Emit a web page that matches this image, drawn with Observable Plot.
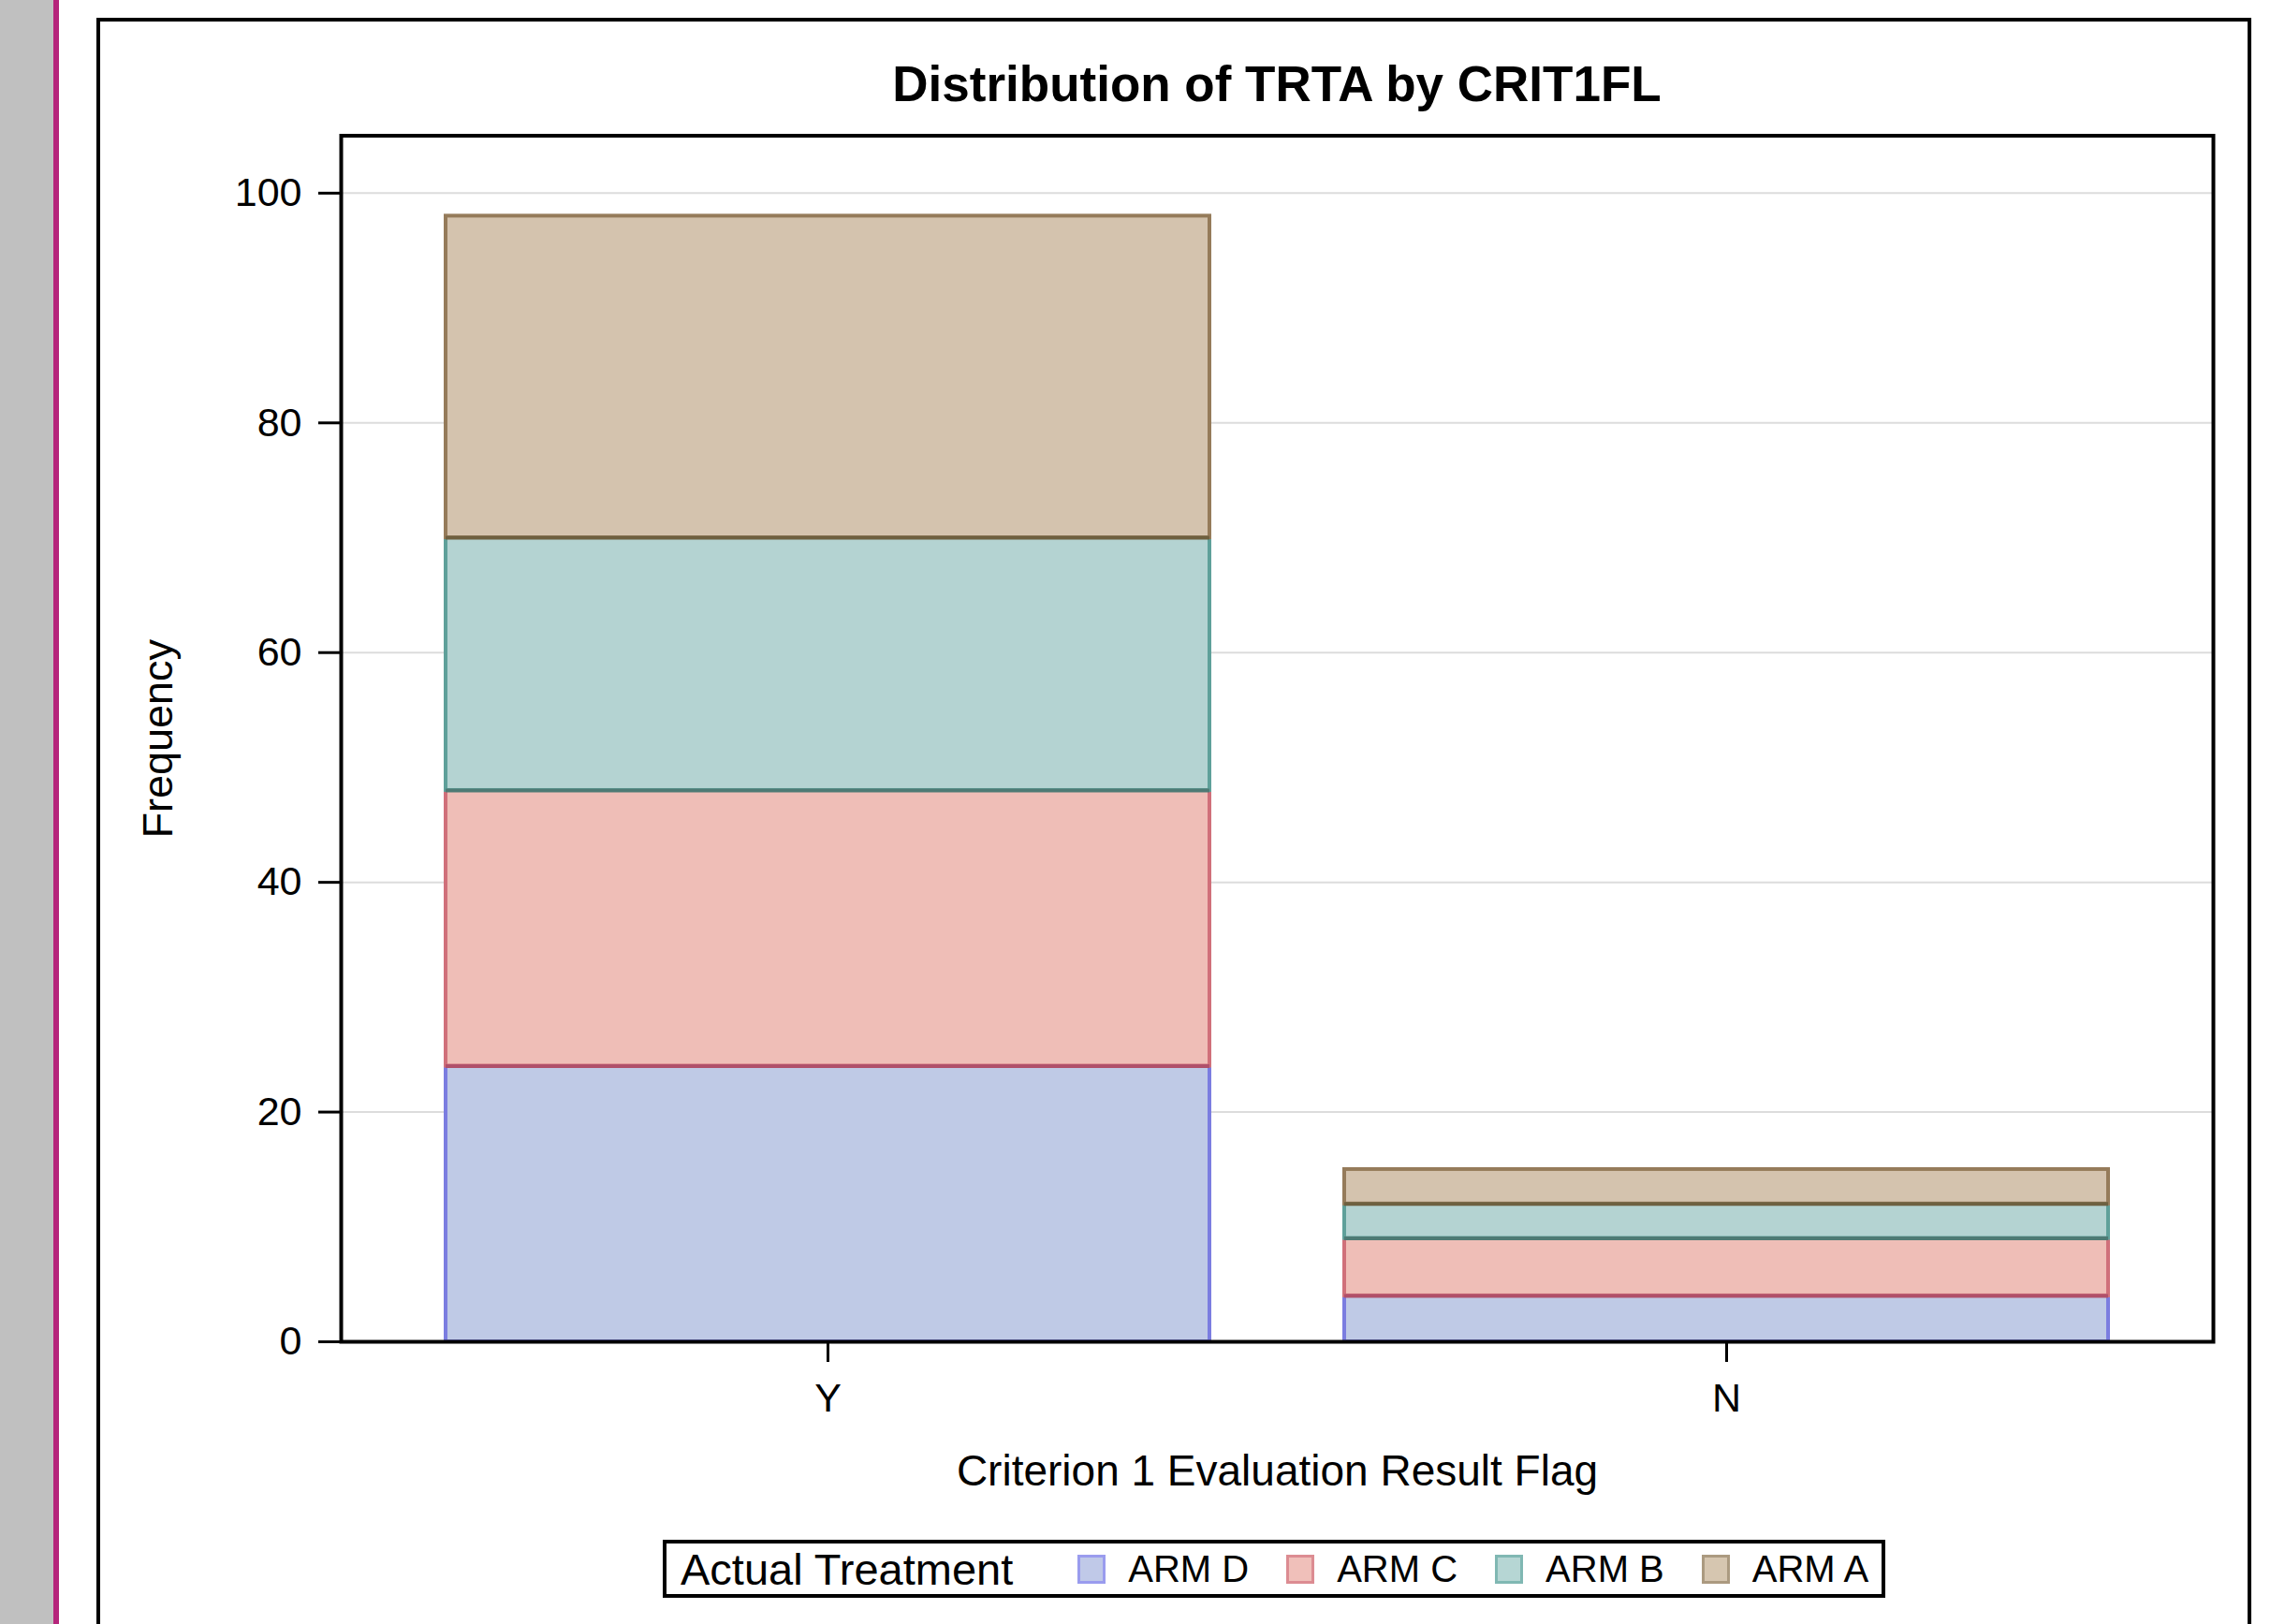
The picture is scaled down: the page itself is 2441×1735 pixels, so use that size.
<!DOCTYPE html>
<html>
<head>
<meta charset="utf-8">
<script src="https://cdn.jsdelivr.net/npm/d3@7"></script>
<script src="https://cdn.jsdelivr.net/npm/@observablehq/plot@0.6"></script>
<style>
  html, body { margin: 0; padding: 0; background: #fff; width: 2441px; height: 1735px; overflow: hidden; font-family: "Liberation Sans", Arial, sans-serif; }
  #band { position: absolute; left: 0; top: 0; width: 57px; height: 1735px; background: #c0c0c0; }
  #magenta { position: absolute; left: 57px; top: 0; width: 6px; height: 1735px; background: #b5257b; }
  #outer { position: absolute; left: 103px; top: 19px; width: 2294px; height: 1800px; border: 4px solid #000; box-sizing: content-box; }
  #title { position: absolute; left: 364px; width: 2000px; top: 63px; text-align: center; font-weight: bold; font-size: 53px; line-height: 53px; color: #000; }
  #chart { position: absolute; left: 107px; top: 130px; }
  #legend { position: absolute; left: 708px; top: 1645px; width: 1298px; height: 54px; border: 4px solid #000; display: flex; align-items: center; color: #000; }
  #legend span { flex: none; }
  #legend .ttl { font-size: 47px; margin-left: 15px; margin-right: 69px; white-space: nowrap; }
  #legend .sw { width: 24px; height: 25px; border: 3px solid; }
  #legend .lab { font-size: 40px; margin-left: 24px; margin-right: 40px; white-space: nowrap; }
</style>
</head>
<body>
<div id="band"></div>
<div id="magenta"></div>
<div id="outer"></div>
<div id="title"></div>
<div id="chart"></div>
<div id="legend"></div>
<script>
// ---- data ----
const titleText = "Distribution of TRTA by CRIT1FL";
const xLabel = "Criterion 1 Evaluation Result Flag";
const yLabel = "Frequency";
const legendTitle = "Actual Treatment";
const flags = ["Y", "N"];
const arms = ["ARM D", "ARM C", "ARM B", "ARM A"];   // stacking order, bottom to top
const armD = [24, 4];
const armC = [24, 5];
const armB = [22, 3];
const armA = [28, 3];
const yTicks = [0, 20, 40, 60, 80, 100];

// ---- styles ----
const FILL   = {"ARM D": "#bfcae6", "ARM C": "#efbeb7", "ARM B": "#b4d3d2", "ARM A": "#d4c3ae"};
const STROKE = {"ARM D": "#7b7de0", "ARM C": "#d0707a", "ARM B": "#5fa09a", "ARM A": "#957b5a"};
const EDGE   = {"ARM D": "#7b7de0", "ARM C": "#b0506a", "ARM B": "#4e7a74", "ARM A": "#6e6040"};
const SW_FILL   = {"ARM D": "#c0c9e8", "ARM C": "#f0c0ba", "ARM B": "#b6d6d4", "ARM A": "#d6c6b0"};
const SW_STROKE = {"ARM D": "#9a9cee", "ARM C": "#dc8c92", "ARM B": "#80b8b3", "ARM A": "#ab9a80"};

const series = {"ARM D": armD, "ARM C": armC, "ARM B": armB, "ARM A": armA};
const rows = [];
flags.forEach((f, i) => {
  let acc = 0;
  arms.forEach(a => {
    const v = series[a][i];
    rows.push({flag: f, arm: a, count: v, y1: acc, y2: acc + v});
    acc += v;
  });
});

document.getElementById("title").textContent = titleText;

const font = "'Liberation Sans', Arial, sans-serif";
const marks = [
  Plot.gridY(yTicks, {stroke: "#dcdcdc", strokeOpacity: 1, strokeWidth: 2}),
];
arms.forEach(a => {
  marks.push(Plot.barY(rows.filter(r => r.arm === a), {
    x: "flag", y1: "y1", y2: "y2", fill: FILL[a], stroke: STROKE[a], strokeWidth: 4
  }));
});
arms.forEach(a => {
  marks.push(Plot.tickY(rows.filter(r => r.arm === a && r.y1 > 0), {
    x: "flag", y: "y1", stroke: EDGE[a], strokeWidth: 4
  }));
});
marks.push(
  Plot.frame({stroke: "#000", strokeWidth: 4}),
  Plot.axisY(yTicks, {tickSize: 24, tickPadding: 18, fontSize: 43, label: null, strokeWidth: 3}),
  Plot.axisX({tickSize: 22, tickPadding: 22, fontSize: 43, label: null, strokeWidth: 3}),
  Plot.text([yLabel], {frameAnchor: "left", rotate: -90, dx: -181, textAnchor: "middle", lineAnchor: "bottom", fontSize: 45, fill: "#000"}),
  Plot.text([xLabel], {frameAnchor: "bottom", dy: 139, textAnchor: "middle", lineAnchor: "middle", fontSize: 46, fill: "#000"})
);

const chart = Plot.plot({
  width: 2294,
  height: 1500,
  marginLeft: 257,
  marginRight: 37,
  marginTop: 14.5,
  marginBottom: 197,
  style: {fontFamily: font, color: "#000", background: "transparent", overflow: "visible"},
  x: {domain: flags, paddingInner: 0.15, paddingOuter: 0.116, label: null},
  y: {domain: [0, 105], label: null},
  marks
});
document.getElementById("chart").appendChild(chart);

// ---- legend ----
const lg = document.getElementById("legend");
const t = document.createElement("span");
t.className = "ttl"; t.textContent = legendTitle; lg.appendChild(t);
arms.forEach((a, i) => {
  const sw = document.createElement("span");
  sw.className = "sw"; sw.style.background = SW_FILL[a]; sw.style.borderColor = SW_STROKE[a];
  lg.appendChild(sw);
  const lab = document.createElement("span");
  lab.className = "lab"; lab.textContent = a;
  if (i === arms.length - 1) lab.style.marginRight = "0px";
  lg.appendChild(lab);
});
</script>
</body>
</html>
